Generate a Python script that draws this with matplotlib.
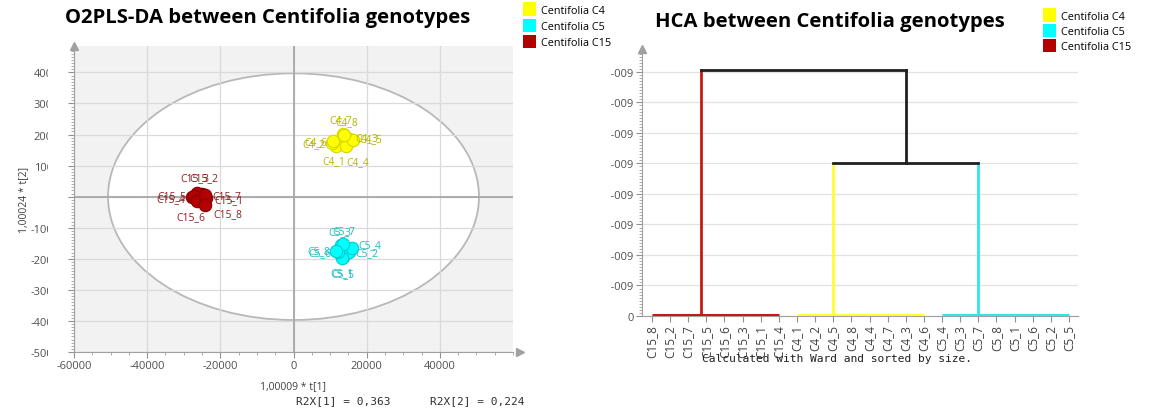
import numpy as np
import matplotlib
matplotlib.use("Agg")
import matplotlib.pyplot as plt
from matplotlib.patches import Ellipse, Patch
from matplotlib.ticker import MultipleLocator, FixedLocator
from matplotlib.transforms import Bbox

plt.rcParams['font.family'] = ['Open Sans', 'DejaVu Sans']

# ---- O2PLS-DA score data ----
c15_names = ["C15_1", "C15_2", "C15_3", "C15_4", "C15_5", "C15_6", "C15_7", "C15_8"]
c15_t1 = [-23800, -25000, -26500, -27800, -27300, -26300, -24300, -24200]
c15_t2 = [-300, 900, 1100, -200, 300, -1400, 400, -2600]

c4_names = ["C4_1", "C4_2", "C4_3", "C4_4", "C4_5", "C4_6", "C4_7", "C4_8"]
c4_t1 = [11500, 10400, 15300, 14300, 16300, 10900, 13400, 13900]
c4_t2 = [16300, 17300, 18600, 16200, 18300, 17900, 20300, 19800]

c5_names = ["C5_1", "C5_2", "C5_3", "C5_4", "C5_5", "C5_6", "C5_7", "C5_8"]
c5_t1 = [13600, 15100, 13100, 16000, 13200, 12100, 13600, 11600]
c5_t2 = [-19300, -17800, -15600, -16400, -19600, -17700, -15300, -17400]

ellipse_t1 = 50700   # semi axes of the T2 ellipse
ellipse_t2 = 39700
r2x = [0.363, 0.224]

# ---- HCA dendrogram data ----
leaves = ["C15_8", "C15_2", "C15_7", "C15_5", "C15_6", "C15_3", "C15_1", "C15_4",
          "C4_1", "C4_2", "C4_5", "C4_8", "C4_4", "C4_7", "C4_3", "C4_6",
          "C5_4", "C5_3", "C5_7", "C5_8", "C5_1", "C5_6", "C5_2", "C5_5"]
# clusters in leaf order: C15, C4, C5
group_first = [0, 8, 16]
group_last = [7, 15, 23]
group_link = [2.7, 10, 18]
group_height = 0.04e-9
merge_c4_c5 = 5.02e-9
merge_top = 8.07e-9
hca_ticks = [0, 1e-9, 2e-9, 3e-9, 4e-9, 5e-9, 6e-9, 7e-9, 8e-9]
hca_ticklabels = ["0", "1e-009", "2e-009", "3e-009", "4e-009", "5e-009", "6e-009", "7e-009", "8e-009"]

groups = ["Centifolia C4", "Centifolia C5", "Centifolia C15"]
fill_cols = ["#ffff00", "#00ffff", "#b30000"]
edge_cols = ["#d6d600", "#00cccc", "#8a0000"]
text_cols = ["#b5b500", "#1fbfbf", "#8f2020"]
dendro_cols = ["#c41a1a", "#ffff2a", "#2ee6e6"]   # C15, C4, C5

W, H = 1176, 410
fig = plt.figure(figsize=(W / 100, H / 100), dpi=100)

# ================= left: O2PLS-DA =================
ax = fig.add_axes([74 / W, 1 - 353 / H, 439 / W, 306 / H])
ax.set_facecolor("#f2f2f2")
ax.set_xlim(-60000, 60000)
ax.set_ylim(-50000, 48500)
ax.add_patch(Ellipse((0, 0), 2 * ellipse_t1, 2 * ellipse_t2, facecolor="white",
                     edgecolor="#b8b8b8", lw=1.3, zorder=0.2))
ax.set_axisbelow(True)
ax.set_xticks(np.arange(-60000, 40001, 20000))
ax.xaxis.set_minor_locator(MultipleLocator(5000))
ax.set_yticks(np.arange(-50000, 40001, 10000))
ax.yaxis.set_minor_locator(MultipleLocator(1000))
ax.grid(True, which="major", color="#dadada", lw=0.9)
ax.axhline(0, color="#a8a8a8", lw=1.3, zorder=0.6)
ax.axvline(0, color="#a8a8a8", lw=1.3, zorder=0.6)
for s in ["top", "right"]:
    ax.spines[s].set_visible(False)
for s in ["left", "bottom"]:
    ax.spines[s].set_color("#a0a0a0")
ax.tick_params(which="major", length=4, color="#909090", labelsize=8, labelcolor="#505050", pad=2)
ax.tick_params(which="minor", length=2, color="#a0a0a0")
ax.set_xticklabels([f"{v:d}" for v in range(-60000, 40001, 20000)])
ax.set_yticklabels([f"{v:d}" for v in range(-50000, 40001, 10000)])
ax.plot(1.015, 0, marker=">", color="#a0a0a0", ms=6, transform=ax.transAxes, clip_on=False)
ax.plot(0, 1.0, marker="^", color="#a0a0a0", ms=6, transform=ax.transAxes, clip_on=False)

# label offsets in pixels (dx, dy, ha)
c15_off = [(8, -2, "left"), (2, 16, "center"), (-2, 16, "center"), (-7, -1, "right"),
           (-7, 0, "right"), (-6, -16, "center"), (8, 0, "left"), (8, -9, "left")]
c4_off = [(-2, -15, "center"), (-6, -1, "right"), (6, 1, "left"), (12, -15, "center"),
          (6, 1, "left"), (-6, -1, "right"), (-2, 14, "center"), (2, 14, "center")]
c5_off = [(-1, -16, "center"), (7, -1, "left"), (-2, 14, "center"), (6, 3, "left"),
          (1, -16, "center"), (-6, -1, "right"), (1, 14, "center"), (-6, 0, "right")]

for k, (names, xs, ys, offs) in enumerate([(c4_names, c4_t1, c4_t2, c4_off),
                                           (c5_names, c5_t1, c5_t2, c5_off),
                                           (c15_names, c15_t1, c15_t2, c15_off)]):
    ax.scatter(xs, ys, s=80, color=fill_cols[k], edgecolors=edge_cols[k], lw=0.8, zorder=3)
    for n, x, y, (dx, dy, ha) in zip(names, xs, ys, offs):
        ax.annotate(n, (x, y), xytext=(dx, dy), textcoords="offset pixels", ha=ha,
                    va="center", fontsize=7.5, color=text_cols[k], zorder=4)

ax.set_xlabel("1,00009 * t[1]", fontsize=7.5, color="#404040", labelpad=6)
ax.set_ylabel("1,00024 * t[2]", fontsize=7.5, color="#404040")
ax.yaxis.set_label_coords(-0.102, 0.5)
fig.text(296 / W, 1 - 401 / H, f"R2X[1] = {r2x[0]:.3f}".replace(".", ","), family="DejaVu Sans Mono",
         fontsize=8, va="center", ha="left", color="#303030")
fig.text(430 / W, 1 - 401 / H, f"R2X[2] = {r2x[1]:.3f}".replace(".", ","), family="DejaVu Sans Mono",
         fontsize=8, va="center", ha="left", color="#303030")
fig.text(65 / W, 1 - 18 / H, "O2PLS-DA between Centifolia genotypes", fontsize=14.6,
         fontweight="bold", va="center", ha="left")

# ================= right: HCA =================
bx = fig.add_axes([642 / W, 1 - 317 / H, 436 / W, 267 / H])
bx.set_xlim(-0.55, 23.5)
bx.set_ylim(0, 8.75e-9)
for g in range(3):
    bx.plot([group_first[g], group_last[g]], [group_height, group_height], color=dendro_cols[g],
            lw=2.2, solid_capstyle="butt", zorder=3)
    top = merge_top if g == 0 else merge_c4_c5
    bx.plot([group_link[g], group_link[g]], [group_height, top], color=dendro_cols[g], lw=2, zorder=3)
mid = (group_link[1] + group_link[2]) / 2
bx.plot([group_link[1], group_link[2]], [merge_c4_c5, merge_c4_c5], color="#202020", lw=2, zorder=3)
bx.plot([mid, mid], [merge_c4_c5, merge_top], color="#202020", lw=2, zorder=3)
bx.plot([group_link[0], mid], [merge_top, merge_top], color="#202020", lw=2, zorder=3)

bx.set_xticks(range(len(leaves)))
bx.set_xticklabels(leaves, rotation=90, fontsize=8.5, color="#404040")
bx.yaxis.set_major_locator(FixedLocator(hca_ticks))
bx.set_yticklabels(hca_ticklabels)
bx.yaxis.set_minor_locator(MultipleLocator(0.1e-9))
bx.grid(True, axis="y", which="major", color="#e2e2e2", lw=0.9)
bx.set_axisbelow(True)
for s in ["top", "right"]:
    bx.spines[s].set_visible(False)
for s in ["left", "bottom"]:
    bx.spines[s].set_color("#a0a0a0")
bx.tick_params(which="major", length=4, color="#909090", labelsize=8, labelcolor="#505050", pad=2)
bx.tick_params(axis="x", labelsize=8.5, labelcolor="#404040")
bx.tick_params(which="minor", length=2, color="#a0a0a0")
bx.plot(0, 1.0, marker="^", color="#a0a0a0", ms=6, transform=bx.transAxes, clip_on=False)
fig.text(702 / W, 1 - 359 / H, "Calculated with Ward and sorted by size.", family="DejaVu Sans Mono",
         fontsize=8.1, va="center", ha="left", color="#202020")
fig.text(655 / W, 1 - 22 / H, "HCA between Centifolia genotypes", fontsize=14.6,
         fontweight="bold", va="center", ha="left")

# legends
handles = [Patch(facecolor=c, edgecolor="none") for c in fill_cols]
fig.legend(handles, groups, loc="upper left", bbox_to_anchor=(519 / W, 1 + 1 / H), frameon=False,
           fontsize=7.8, handlelength=1.2, handleheight=1.5, handletextpad=0.4, labelspacing=0.3,
           borderaxespad=0)
fig.legend(handles, groups, loc="upper left", bbox_to_anchor=(1039 / W, 1 - 5 / H), frameon=False,
           fontsize=7.8, handlelength=1.2, handleheight=1.5, handletextpad=0.4, labelspacing=0.2,
           borderaxespad=0)

# clipped tick labels, as in the source export
fig.canvas.draw()
for lbl in ax.get_yticklabels():
    lbl.set_clip_box(Bbox.from_extents(0, 0, 48, H))
    lbl.set_clip_on(True)
for lbl in bx.get_yticklabels()[1:]:
    lbl.set_clip_box(Bbox.from_extents(611, 0, W, H))
    lbl.set_clip_on(True)

fig.savefig("out.png", dpi=100)
